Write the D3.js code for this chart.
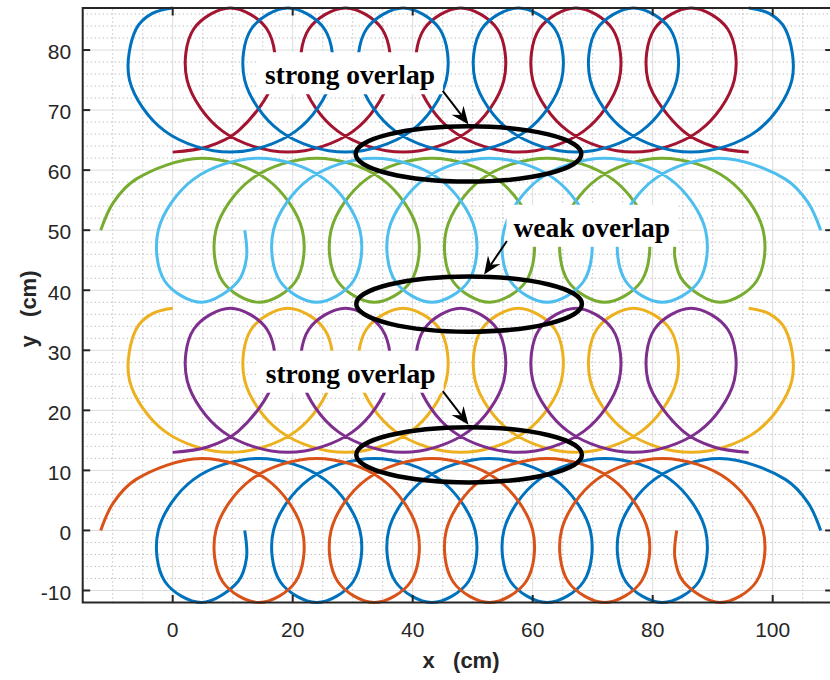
<!DOCTYPE html>
<html><head><meta charset="utf-8">
<script src="https://cdn.jsdelivr.net/npm/d3@7"></script>
<style>body{margin:0;background:#fff}</style>
</head><body>
<svg id="c" width="830" height="680"></svg>
<script>
const xTicks=[0,20,40,60,80,100];
const yTicks=[-10,0,10,20,30,40,50,60,70,80];

const bottomBlue=[[12,0],[12.3,-4.6],[10.9,-8.5],[4.8,-12],[-1.3,-8.5],[-2.4,0],[3.5,8.5],[14.4,12],[25.3,8.5],[31.2,0],[30.1,-8.5],[24,-12],[17.9,-8.5],[16.8,0],[22.7,8.5],[33.6,12],[44.5,8.5],[50.4,0],[49.3,-8.5],[43.2,-12],[37.1,-8.5],[36,0],[41.9,8.5],[52.8,12],[63.7,8.5],[69.6,0],[68.5,-8.5],[62.4,-12],[56.3,-8.5],[55.2,0],[61.1,8.5],[72,12],[82.9,8.5],[88.8,0],[87.7,-8.5],[81.6,-12],[75.5,-8.5],[74.4,0],[80.3,8.5],[91.2,12],[102.1,8.5],[105.9,4.6],[108,0]];
const bottomOrange=[[-12,0],[-9.9,4.6],[-6.1,8.5],[4.8,12],[15.7,8.5],[21.6,0],[20.5,-8.5],[14.4,-12],[8.3,-8.5],[7.2,0],[13.1,8.5],[24,12],[34.9,8.5],[40.8,0],[39.7,-8.5],[33.6,-12],[27.5,-8.5],[26.4,0],[32.3,8.5],[43.2,12],[54.1,8.5],[60,0],[58.9,-8.5],[52.8,-12],[46.7,-8.5],[45.6,0],[51.5,8.5],[62.4,12],[73.3,8.5],[79.2,0],[78.1,-8.5],[72,-12],[65.9,-8.5],[64.8,0],[70.7,8.5],[81.6,12],[92.5,8.5],[98.4,0],[97.3,-8.5],[91.2,-12],[85.1,-8.5],[83.7,-4.6],[84,0]];
const midYellow=[[0,37],[-3.4,36.1],[-6.1,33.5],[-7.2,25],[-1.3,16.5],[9.6,13],[20.5,16.5],[26.4,25],[25.3,33.5],[19.2,37],[13.1,33.5],[12,25],[17.9,16.5],[28.8,13],[39.7,16.5],[45.6,25],[44.5,33.5],[38.4,37],[32.3,33.5],[31.2,25],[37.1,16.5],[48,13],[58.9,16.5],[64.8,25],[63.7,33.5],[57.6,37],[51.5,33.5],[50.4,25],[56.3,16.5],[67.2,13],[78.1,16.5],[84,25],[82.9,33.5],[76.8,37],[70.7,33.5],[69.6,25],[75.5,16.5],[86.4,13],[97.3,16.5],[103.2,25],[102.1,33.5],[99.4,36.1],[96,37]];
const midPurple=[[0,13],[5.8,13.9],[10.9,16.5],[16.8,25],[15.7,33.5],[9.6,37],[3.5,33.5],[2.4,25],[8.3,16.5],[19.2,13],[30.1,16.5],[36,25],[34.9,33.5],[28.8,37],[22.7,33.5],[21.6,25],[27.5,16.5],[38.4,13],[49.3,16.5],[55.2,25],[54.1,33.5],[48,37],[41.9,33.5],[40.8,25],[46.7,16.5],[57.6,13],[68.5,16.5],[74.4,25],[73.3,33.5],[67.2,37],[61.1,33.5],[60,25],[65.9,16.5],[76.8,13],[87.7,16.5],[93.6,25],[92.5,33.5],[86.4,37],[80.3,33.5],[79.2,25],[85.1,16.5],[90.2,13.9],[96,13]];
const upperGreen=[[-12,50],[-9.9,54.6],[-6.1,58.5],[4.8,62],[15.7,58.5],[21.6,50],[20.5,41.5],[14.4,38],[8.3,41.5],[7.2,50],[13.1,58.5],[24,62],[34.9,58.5],[40.8,50],[39.7,41.5],[33.6,38],[27.5,41.5],[26.4,50],[32.3,58.5],[43.2,62],[54.1,58.5],[60,50],[58.9,41.5],[52.8,38],[46.7,41.5],[45.6,50],[51.5,58.5],[62.4,62],[73.3,58.5],[79.2,50],[78.1,41.5],[72,38],[65.9,41.5],[64.8,50],[70.7,58.5],[81.6,62],[92.5,58.5],[98.4,50],[97.3,41.5],[91.2,38],[85.1,41.5],[83.7,45.4],[84,50]];
const upperCyan=[[12,50],[12.3,45.4],[10.9,41.5],[4.8,38],[-1.3,41.5],[-2.4,50],[3.5,58.5],[14.4,62],[25.3,58.5],[31.2,50],[30.1,41.5],[24,38],[17.9,41.5],[16.8,50],[22.7,58.5],[33.6,62],[44.5,58.5],[50.4,50],[49.3,41.5],[43.2,38],[37.1,41.5],[36,50],[41.9,58.5],[52.8,62],[63.7,58.5],[69.6,50],[68.5,41.5],[62.4,38],[56.3,41.5],[55.2,50],[61.1,58.5],[72,62],[82.9,58.5],[88.8,50],[87.7,41.5],[81.6,38],[75.5,41.5],[74.4,50],[80.3,58.5],[91.2,62],[102.1,58.5],[105.9,54.6],[108,50]];
const topRed=[[0,63],[5.8,63.9],[10.9,66.5],[16.8,75],[15.7,83.5],[9.6,87],[3.5,83.5],[2.4,75],[8.3,66.5],[19.2,63],[30.1,66.5],[36,75],[34.9,83.5],[28.8,87],[22.7,83.5],[21.6,75],[27.5,66.5],[38.4,63],[49.3,66.5],[55.2,75],[54.1,83.5],[48,87],[41.9,83.5],[40.8,75],[46.7,66.5],[57.6,63],[68.5,66.5],[74.4,75],[73.3,83.5],[67.2,87],[61.1,83.5],[60,75],[65.9,66.5],[76.8,63],[87.7,66.5],[93.6,75],[92.5,83.5],[86.4,87],[80.3,83.5],[79.2,75],[85.1,66.5],[90.2,63.9],[96,63]];
const topBlue=[[0,87],[-3.4,86.1],[-6.1,83.5],[-7.2,75],[-1.3,66.5],[9.6,63],[20.5,66.5],[26.4,75],[25.3,83.5],[19.2,87],[13.1,83.5],[12,75],[17.9,66.5],[28.8,63],[39.7,66.5],[45.6,75],[44.5,83.5],[38.4,87],[32.3,83.5],[31.2,75],[37.1,66.5],[48,63],[58.9,66.5],[64.8,75],[63.7,83.5],[57.6,87],[51.5,83.5],[50.4,75],[56.3,66.5],[67.2,63],[78.1,66.5],[84,75],[82.9,83.5],[76.8,87],[70.7,83.5],[69.6,75],[75.5,66.5],[86.4,63],[97.3,66.5],[103.2,75],[102.1,83.5],[99.4,86.1],[96,87]];

const seriesList=[bottomBlue,bottomOrange,midYellow,midPurple,upperGreen,upperCyan,topRed,topBlue];
const seriesColors=["#0072BD","#D95319","#EDB120","#7E2F8E","#77AC30","#4DBEEE","#A2142F","#0072BD"];

const labelTexts=["strong overlap","weak overlap","strong overlap"];
const labelX=[15.4,56.8,15.5];
const labelY=[74.3,48.9,24.6];
const arrowFrom=[[45,73.2],[55.7,48.2],[45,23.2]];
const arrowTo=[[49.3,67.6],[51.9,42.6],[49.3,17.6]];
const ellipseCx=[49.3,49.4,49.4];
const ellipseCy=[62.7,37.7,12.6];
const ellipseRx=[18.8,18.8,18.8];
const ellipseRy=[4.6,4.6,4.6];

const svg=d3.select("#c");
const x=d3.scaleLinear().domain([-15,110]).range([82.7,832.7]);
const y=d3.scaleLinear().domain([-12,87]).range([602.5,8]);
const [x0,x1]=x.range(), [y0,y1]=y.range();
const axisColor="#262626";
const sans="'Liberation Sans',Arial,Helvetica,sans-serif";

svg.append("rect").attr("width",830).attr("height",680).attr("fill","#fff");

// minor grid
const gMinor=svg.append("g").attr("stroke","#b5b5b5").attr("stroke-width",1).attr("stroke-dasharray","1.2,2.8");
d3.range(-15,111,5).filter(v=>v%20!==0).forEach(v=>{
  gMinor.append("line").attr("x1",x(v)).attr("x2",x(v)).attr("y1",y0).attr("y2",y1);
});
d3.range(-12,88,2).filter(v=>v%10!==0).forEach(v=>{
  gMinor.append("line").attr("x1",x0).attr("x2",x1).attr("y1",y(v)).attr("y2",y(v));
});
// major grid
const gMajor=svg.append("g").attr("stroke","#dcdcdc").attr("stroke-width",1);
xTicks.forEach(v=>gMajor.append("line").attr("x1",x(v)).attr("x2",x(v)).attr("y1",y0).attr("y2",y1));
yTicks.forEach(v=>gMajor.append("line").attr("x1",x0).attr("x2",x1).attr("y1",y(v)).attr("y2",y(v)));

// curves
const line=d3.line().x(d=>x(d[0])).y(d=>y(d[1])).curve(d3.curveCatmullRom.alpha(0.5));
seriesList.forEach((s,i)=>{
  svg.append("path").attr("d",line(s)).attr("fill","none")
    .attr("stroke",seriesColors[i]).attr("stroke-width",3).attr("stroke-linejoin","round");
});

// axes frame + ticks
const gAx=svg.append("g");
gAx.append("rect").attr("x",x0).attr("y",y1).attr("width",x1-x0).attr("height",y0-y1)
  .attr("fill","none").attr("stroke",axisColor).attr("stroke-width",2);
const tl=7.5;
xTicks.forEach(v=>{
  gAx.append("line").attr("x1",x(v)).attr("x2",x(v)).attr("y1",y0).attr("y2",y0-tl).attr("stroke",axisColor).attr("stroke-width",2);
  gAx.append("line").attr("x1",x(v)).attr("x2",x(v)).attr("y1",y1).attr("y2",y1+tl).attr("stroke",axisColor).attr("stroke-width",2);
  gAx.append("text").attr("x",x(v)).attr("y",y0+34.5).attr("text-anchor","middle")
    .attr("font-family",sans).attr("font-size",21).attr("fill",axisColor).text(v);
});
yTicks.forEach(v=>{
  gAx.append("line").attr("x1",x0).attr("x2",x0+tl).attr("y1",y(v)).attr("y2",y(v)).attr("stroke",axisColor).attr("stroke-width",2);
  gAx.append("line").attr("x1",x1).attr("x2",x1-tl).attr("y1",y(v)).attr("y2",y(v)).attr("stroke",axisColor).attr("stroke-width",2);
  gAx.append("text").attr("x",x0-11.5).attr("y",y(v)+9.3).attr("text-anchor","end")
    .attr("font-family",sans).attr("font-size",21).attr("fill",axisColor).text(v);
});
gAx.append("text").attr("x",461).attr("y",668).attr("text-anchor","middle")
  .attr("font-family",sans).attr("font-size",22).attr("font-weight","bold")
  .attr("fill",axisColor).style("white-space","pre").text("x   (cm)");
gAx.append("text").attr("transform","translate(36,309) rotate(-90)").attr("text-anchor","middle")
  .attr("font-family",sans).attr("font-size",22).attr("font-weight","bold")
  .attr("fill",axisColor).style("white-space","pre").text("y   (cm)");

// ellipses
ellipseCx.forEach((cx,i)=>{
  svg.append("ellipse").attr("cx",x(cx)).attr("cy",y(ellipseCy[i]))
    .attr("rx",x(cx+ellipseRx[i])-x(cx)).attr("ry",y(ellipseCy[i]-ellipseRy[i])-y(ellipseCy[i]))
    .attr("fill","none").attr("stroke","#000").attr("stroke-width",4.5);
});

// labels
labelTexts.forEach((t,i)=>{
  const g=svg.append("g");
  const rect=g.append("rect").attr("fill","#fff");
  const tx=g.append("text").attr("x",x(labelX[i])).attr("y",y(labelY[i]))
    .attr("font-family","'Liberation Serif','Times New Roman',serif").attr("font-weight","bold")
    .attr("font-size",27.5).attr("fill","#000").text(t);
  const bb=tx.node().getBBox();
  const by=y(labelY[i]);
  rect.attr("x",bb.x-7).attr("y",by-32).attr("width",bb.width+15).attr("height",42);
});

// arrows
arrowFrom.forEach((f,i)=>{
  const sx=x(f[0]), sy=y(f[1]), ex=x(arrowTo[i][0]), ey=y(arrowTo[i][1]);
  const dx=ex-sx, dy=ey-sy, L=Math.hypot(dx,dy), ux=dx/L, uy=dy/L, px=-uy, py=ux;
  const hl=18, hw=7.5, notch=12;
  const nx=ex-ux*notch, ny=ey-uy*notch;
  svg.append("line").attr("x1",sx).attr("y1",sy).attr("x2",nx).attr("y2",ny).attr("stroke","#000").attr("stroke-width",2);
  const bx=ex-ux*hl, by=ey-uy*hl;
  svg.append("path").attr("d",`M${ex},${ey}L${bx+px*hw},${by+py*hw}L${nx},${ny}L${bx-px*hw},${by-py*hw}Z`).attr("fill","#000");
});
</script>
</body></html>
